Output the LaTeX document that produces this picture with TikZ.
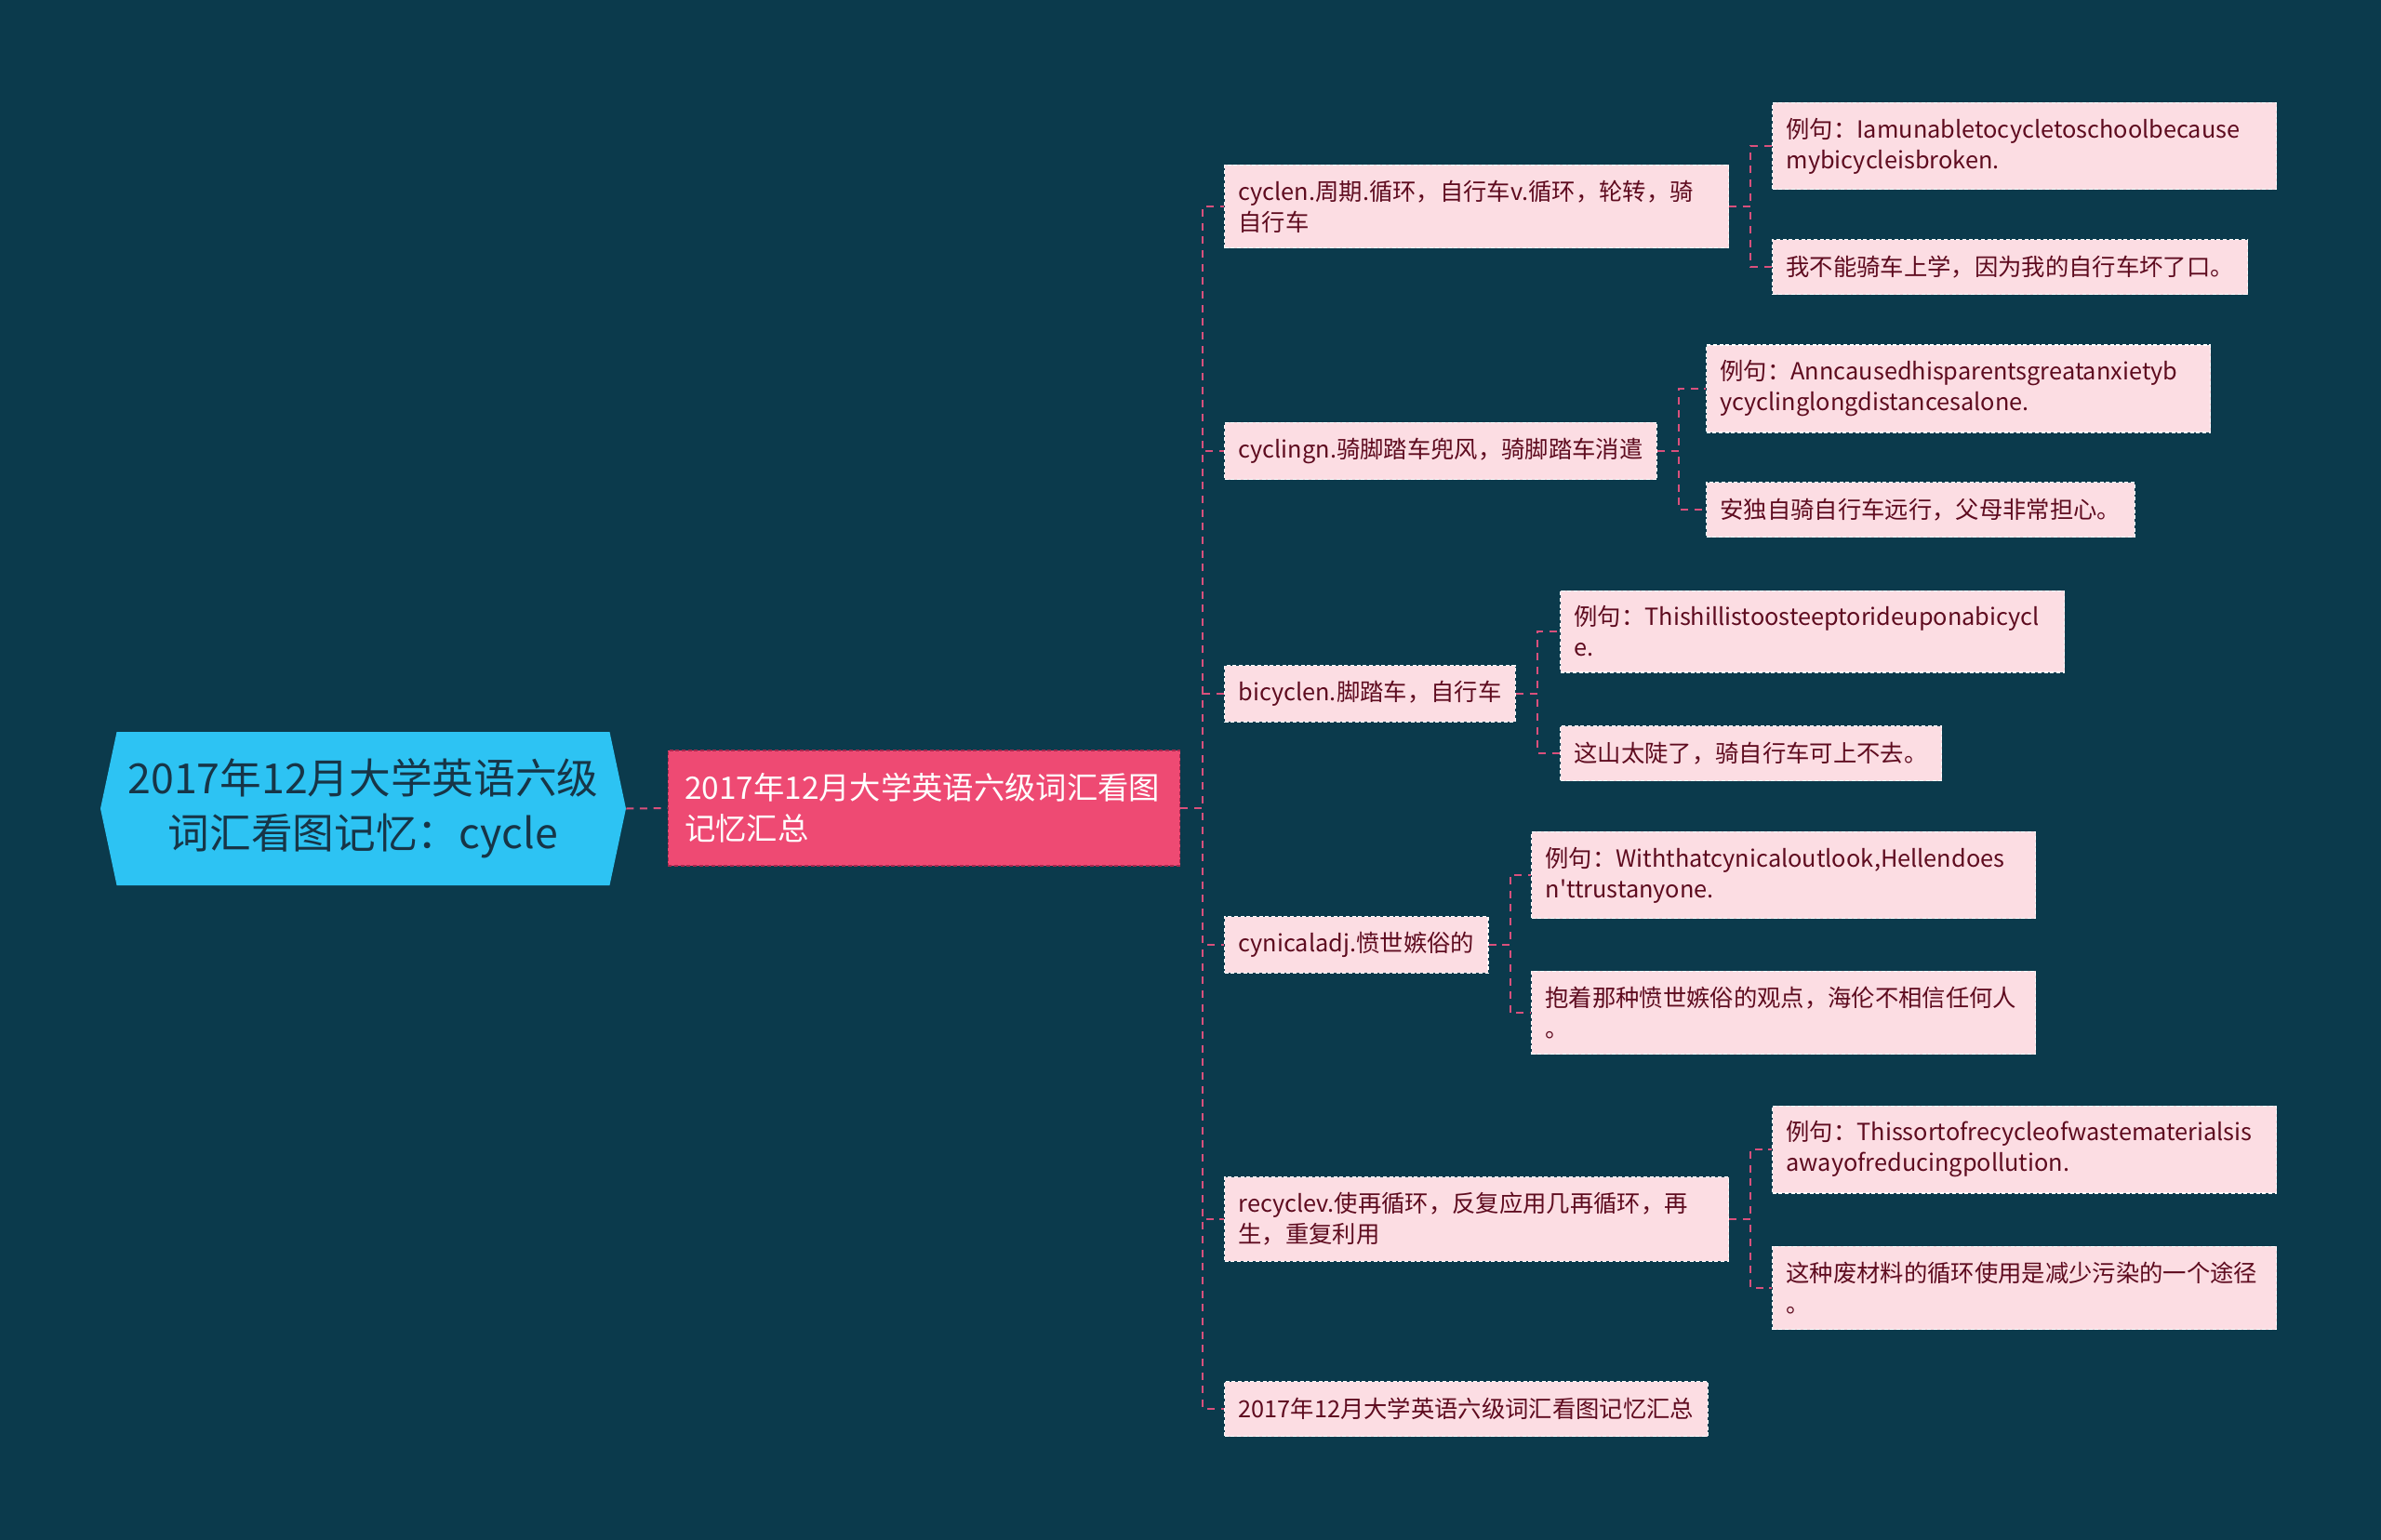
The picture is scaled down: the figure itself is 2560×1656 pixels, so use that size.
\documentclass[tikz,border=0pt]{standalone}
\usepackage{fontspec}
\setmainfont{Noto Sans CJK SC}
\usepackage{xcolor}
\usepackage{tikz}
\usetikzlibrary{shapes.symbols, positioning}

\definecolor{bgnavy}{HTML}{0B3A4C}
\definecolor{rootblue}{HTML}{2DC3F3}
\definecolor{rootink}{HTML}{173547}
\definecolor{hubpink}{HTML}{EE4A73}
\definecolor{hubedge}{HTML}{A8284E}
\definecolor{leafpink}{HTML}{FCDDE3}
\definecolor{leafink}{HTML}{5E0B1F}
\definecolor{linkpink}{HTML}{D9507C}

\begin{document}
\begin{tikzpicture}[
    x=0.75pt, y=-0.75pt,
    rootnode/.style={signal, signal to=east and west, signal pointer angle=156, fill=rootblue, text=rootink, align=center, minimum width=423.75pt, minimum height=123.75pt, inner xsep=4pt, font=\fontsize{33.5}{44}\selectfont},
    hub/.style={rectangle, fill=hubpink, draw=hubedge, densely dashed, line width=0.8pt, text=white, align=left, text width=386pt, inner xsep=13.5pt, minimum height=93pt, font=\fontsize{25}{33}\selectfont},
    leaf/.style={rectangle, fill=leafpink, draw=white, densely dashed, line width=0.8pt, text=leafink, align=left, inner xsep=11.25pt, inner ysep=12.5pt, minimum height=44.25pt, font=\fontsize{19}{24.75}\selectfont},
    wide/.style={text width=384pt},
    link/.style={draw=linkpink, line width=1.5pt, dash pattern=on 6pt off 5pt},
]
    \fill[bgnavy] (0,0) rectangle (2560,1656);
    \useasboundingbox (0,0) rectangle (2560,1656);

    \node[rootnode] (root) at (390.5,869.5) {2017年12月大学英语六级\\词汇看图记忆：cycle};
    \node[hub] (hub) at (993.5,869) {2017年12月大学英语六级词汇看图\\记忆汇总};

    \node[leaf, wide, anchor=west] (cycle) at (1316,222) {cyclen.周期.循环，自行车v.循环，轮转，骑\\自行车};
    \node[leaf, anchor=west] (cycling) at (1316,485) {cyclingn.骑脚踏车兜风，骑脚踏车消遣};
    \node[leaf, anchor=west] (bicycle) at (1316,746) {bicyclen.脚踏车，自行车};
    \node[leaf, anchor=west] (cynical) at (1316,1016) {cynicaladj.愤世嫉俗的};
    \node[leaf, wide, anchor=west] (recycle) at (1316,1311) {recyclev.使再循环，反复应用几再循环，再\\生，重复利用};
    \node[leaf, anchor=west] (summary) at (1316,1515) {2017年12月大学英语六级词汇看图记忆汇总};

    \node[leaf, wide, anchor=west] (cycleEx) at (1905,157) {例句：Iamunabletocycletoschoolbecause\\mybicycleisbroken.};
    \node[leaf, anchor=west] (cycleZh) at (1905,287) {我不能骑车上学，因为我的自行车坏了口。};
    \node[leaf, wide, anchor=west] (cyclingEx) at (1834,418) {例句：Anncausedhisparentsgreatanxietyb\\ycyclinglongdistancesalone.};
    \node[leaf, anchor=west] (cyclingZh) at (1834,548) {安独自骑自行车远行，父母非常担心。};
    \node[leaf, wide, anchor=west] (bicycleEx) at (1677,679) {例句：Thishillistoosteeptorideuponabicycl\\e.};
    \node[leaf, anchor=west] (bicycleZh) at (1677,810) {这山太陡了，骑自行车可上不去。};
    \node[leaf, wide, anchor=west] (cynicalEx) at (1646,941) {例句：Withthatcynicaloutlook,Hellendoes\\n\textquotesingle ttrustanyone.};
    \node[leaf, wide, anchor=west] (cynicalZh) at (1646,1089) {抱着那种愤世嫉俗的观点，海伦不相信任何人\\。};
    \node[leaf, wide, anchor=west] (recycleEx) at (1905,1236) {例句：Thissortofrecycleofwastematerialsis\\awayofreducingpollution.};
    \node[leaf, wide, anchor=west] (recycleZh) at (1905,1385) {这种废材料的循环使用是减少污染的一个途径\\。};

    \draw[link] (root.east) -- (hub.west);
    \foreach \t in {cycle, cycling, bicycle, cynical, recycle, summary}
        \draw[link] (hub.east) -- ++(24,0) |- (\t.west);
    \foreach \t in {cycle, cycling, bicycle, cynical, recycle} {
        \draw[link] (\t.east) -- ++(23,0) |- (\t Ex.west);
        \draw[link] (\t.east) -- ++(23,0) |- (\t Zh.west);
    }
\end{tikzpicture}
\end{document}
